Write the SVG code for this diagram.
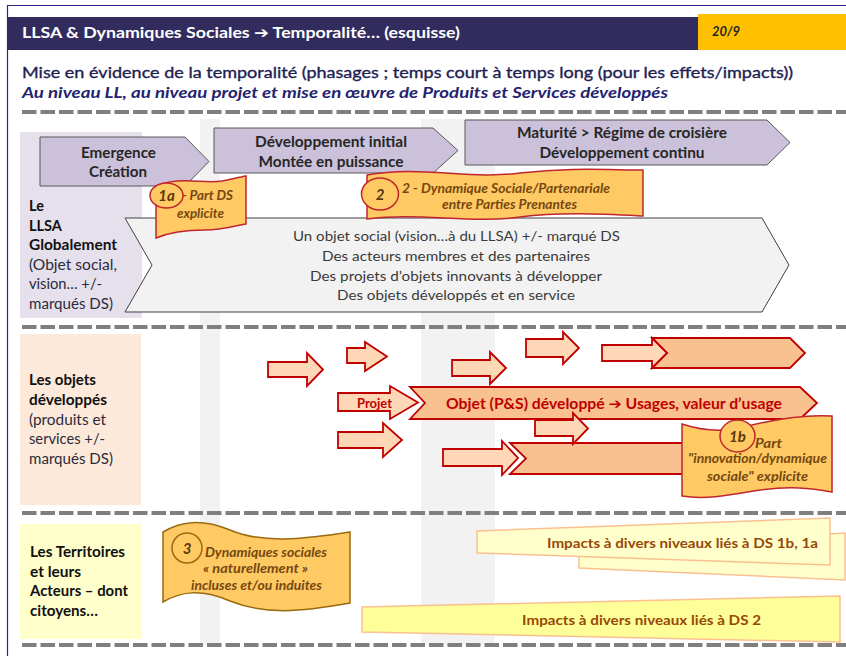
<svg xmlns="http://www.w3.org/2000/svg" width="846" height="656" viewBox="0 0 846 656">
<style>
text{font-family:Lato,"DejaVu Sans",sans-serif}
.dash{stroke:#7f7f7f;stroke-width:4;stroke-dasharray:14.5 4;fill:none}
.band{fill:#f2f2f2}
.phase{fill:#ccc1da;stroke:#595959;stroke-width:1}
.ptxt{font-size:14.5px;font-weight:bold;fill:#262626;text-anchor:middle}
.gtxt{font-size:14px;fill:#3a3a3a;text-anchor:middle}
.lbl{font-size:14.5px;fill:#2b2b3b}
.lb{font-weight:bold;fill:#111}
.sa{fill:#fdd7b6;stroke:#c00000;stroke-width:1.8;stroke-linejoin:miter}
.ch{fill:#f9c090;stroke:#c00000;stroke-width:1.8}
.ban{fill:#ffc964;stroke:#c0262d;stroke-width:1.5}
.ban3{fill:#ffc964;stroke:#9a6a10;stroke-width:1.5}
.btxt{font-size:12.5px;font-style:italic;font-weight:bold;fill:#75480f}
.num{font-size:15px;font-style:italic;font-weight:bold;fill:#5a380c;text-anchor:middle}
.imp{font-size:13.5px;font-weight:bold;fill:#984807}
</style>
<rect x="0" y="0" width="846" height="656" fill="#ffffff"/>
<g id="frame">
<path d="M7.5,656 V5.5 H846" fill="none" stroke="#2a2a86" stroke-width="1.2"/>
</g>
<g id="header">
<rect x="8" y="17" width="690" height="33" fill="#322c5e"/>
<rect x="698" y="14" width="148" height="36" fill="#ffc000"/>
<text x="22" y="38" font-size="15.5" font-weight="bold" fill="#ffffff" textLength="438" lengthAdjust="spacingAndGlyphs">LLSA &amp; Dynamiques Sociales ➔ Temporalité… (esquisse)</text>
<text x="712" y="36" font-size="14" font-weight="bold" font-style="italic" fill="#262626" textLength="28" lengthAdjust="spacingAndGlyphs">20/9</text>
<text x="22" y="78" font-size="15.5" fill="#1e1e52" stroke="#1e1e52" stroke-width="0.35" textLength="771" lengthAdjust="spacingAndGlyphs">Mise en évidence de la temporalité (phasages ; temps court à temps long (pour les effets/impacts))</text>
<text x="22" y="98" font-size="15" font-style="italic" font-weight="bold" fill="#23236e" textLength="646" lengthAdjust="spacingAndGlyphs">Au niveau LL, au niveau projet et mise en œuvre de Produits et Services développés</text>
</g>
<g id="bands">
<rect class="band" x="200" y="119" width="20" height="526"/>
<rect class="band" x="421" y="119" width="74" height="526"/>
</g>
<g id="separators">
<line class="dash" x1="22" y1="112" x2="846" y2="112"/>
<line class="dash" x1="22" y1="327" x2="846" y2="327"/>
<line class="dash" x1="22" y1="513" x2="846" y2="513"/>
<line class="dash" x1="22" y1="645" x2="846" y2="645"/>
</g>
<g id="row-llsa">
<rect x="20" y="132" width="122" height="186" fill="#e5e0ec"/>
<text class="lbl lb" x="29" y="211">Le</text>
<text class="lbl lb" x="29" y="230.5">LLSA</text>
<text class="lbl lb" x="29" y="250" textLength="88" lengthAdjust="spacingAndGlyphs">Globalement</text>
<text class="lbl" x="29" y="269.5" textLength="88" lengthAdjust="spacingAndGlyphs">(Objet social,</text>
<text class="lbl" x="29" y="289" textLength="73" lengthAdjust="spacingAndGlyphs">vision… +/-</text>
<text class="lbl" x="29" y="308.5" textLength="84" lengthAdjust="spacingAndGlyphs">marqués DS)</text>
</g>
<g id="row-objets">
<rect x="20" y="334" width="121" height="171" fill="#fde9d9"/>
<text class="lbl lb" x="29" y="385" textLength="67" lengthAdjust="spacingAndGlyphs">Les objets</text>
<text class="lbl lb" x="29" y="404.5" textLength="78" lengthAdjust="spacingAndGlyphs">développés</text>
<text class="lbl" x="29" y="424.5" textLength="77" lengthAdjust="spacingAndGlyphs">(produits et</text>
<text class="lbl" x="29" y="444" textLength="76" lengthAdjust="spacingAndGlyphs">services +/-</text>
<text class="lbl" x="29" y="463.5" textLength="84" lengthAdjust="spacingAndGlyphs">marqués DS)</text>
</g>
<g id="row-territoires">
<rect x="20" y="524" width="122" height="115" fill="#ffffcc"/>
<text class="lbl lb" x="30" y="557" textLength="95" lengthAdjust="spacingAndGlyphs">Les Territoires</text>
<text class="lbl lb" x="30" y="576.5" textLength="51" lengthAdjust="spacingAndGlyphs">et leurs</text>
<text class="lbl lb" x="30" y="596" textLength="98" lengthAdjust="spacingAndGlyphs">Acteurs – dont</text>
<text class="lbl lb" x="30" y="615.5" textLength="68" lengthAdjust="spacingAndGlyphs">citoyens…</text>
</g>
<g id="phase-emergence">
<polygon class="phase" points="40,137 185,137 209,161.5 185,186 40,186"/>
<text class="ptxt" x="118.5" y="158" textLength="75" lengthAdjust="spacingAndGlyphs">Emergence</text>
<text class="ptxt" x="118" y="177" textLength="58" lengthAdjust="spacingAndGlyphs">Création</text>
</g>
<g id="phase-developpement">
<polygon class="phase" points="214,128 433,128 458,150.5 433,173 214,173"/>
<text class="ptxt" x="331" y="147" textLength="152" lengthAdjust="spacingAndGlyphs">Développement initial</text>
<text class="ptxt" x="331" y="167" textLength="145" lengthAdjust="spacingAndGlyphs">Montée en puissance</text>
</g>
<g id="phase-maturite">
<polygon class="phase" points="465,120 767,120 790,142.5 767,165 465,165"/>
<text class="ptxt" x="622" y="138" textLength="210" lengthAdjust="spacingAndGlyphs">Maturité &gt; Régime de croisière</text>
<text class="ptxt" x="622" y="158" textLength="165" lengthAdjust="spacingAndGlyphs">Développement continu</text>
</g>
<g id="llsa-objet-social">
<polygon points="125,218 762,218 789,265 762,312 125,312 152,265" fill="#f2f2f2" stroke="#404040" stroke-width="1"/>
<text class="gtxt" x="456.5" y="241" textLength="327" lengthAdjust="spacingAndGlyphs">Un objet social (vision…à du LLSA) +/- marqué DS</text>
<text class="gtxt" x="456" y="261" textLength="268" lengthAdjust="spacingAndGlyphs">Des acteurs membres et des partenaires</text>
<text class="gtxt" x="456" y="281" textLength="292" lengthAdjust="spacingAndGlyphs">Des projets d’objets innovants à développer</text>
<text class="gtxt" x="456" y="300" textLength="238" lengthAdjust="spacingAndGlyphs">Des objets développés et en service</text>
</g>
<g id="ds-1a">
<path class="ban" d="M156,186 C178,176 204,184 222,181 C232,179 240,177 246,176 L246,224 C234,226 222,230 205,230 C186,230 170,232 156,238 Z"/>
<ellipse class="ban" cx="166.5" cy="195.5" rx="16.5" ry="12.5"/>
<text class="num" x="166.5" y="201">1a</text>
<text class="btxt" x="182" y="200" textLength="51" lengthAdjust="spacingAndGlyphs">- Part DS</text>
<text class="btxt" x="200.5" y="218" text-anchor="middle" textLength="47" lengthAdjust="spacingAndGlyphs">explicite</text>
</g>
<g id="ds-2">
<path class="ban" d="M367,175 C420,165 470,180 520,173 C570,167 610,170 643,170 L643,216 C600,214 560,212 520,217 C470,224 420,212 367,219 Z"/>
<ellipse class="ban" cx="380" cy="194" rx="18.5" ry="16"/>
<text class="num" x="380" y="200" font-size="16">2</text>
<text class="btxt" x="402" y="193" textLength="208" lengthAdjust="spacingAndGlyphs">2 - Dynamique Sociale/Partenariale</text>
<text class="btxt" x="509.5" y="209" text-anchor="middle" textLength="135" lengthAdjust="spacingAndGlyphs">entre Parties Prenantes</text>
</g>
<g id="objets-arrows">
<path class="sa" d="M268,362 H307 V353 L323,369.5 L307,386 V377 H268 Z"/>
<path class="sa" d="M347,348 H365 V342 L387,356.5 L365,371 V363 H347 Z"/>
<path class="sa" d="M338,432 H383 V423 L402,440 L383,457 V448 H338 Z"/>
<path class="sa" d="M526,339 H563 V332 L579,348 L563,364 V357 H526 Z"/>
<polygon class="ch" points="652,338 790,338 805,353 790,368 652,368 667,353"/>
<path class="sa" d="M602,345 H652 V338 L667,353 L652,368 V361 H602 Z"/>
<path class="sa" d="M452,360 H490 V352 L506,368 L490,384 V376 H452 Z"/>
<polygon class="ch" points="510,443 720,443 720,474 510,474 526,458.5"/>
<path class="sa" d="M443,449 H502 V441 L518,458 L502,475 V466 H443 Z"/>
</g>
<g id="objet-developpe">
<polygon class="ch" points="410,387 800,387 817,403 800,419 410,419 425,403"/>
<text x="614" y="409" font-size="14.5" font-weight="bold" fill="#c00000" text-anchor="middle" textLength="336" lengthAdjust="spacingAndGlyphs">Objet (P&amp;S) développé ➔ Usages, valeur d’usage</text>
</g>
<g id="projet">
<path class="sa" d="M338,393 H390 V386 L418,402.5 L390,419 V411 H338 Z"/>
<text x="374.5" y="408" font-size="12.5" font-weight="bold" fill="#c00000" text-anchor="middle" textLength="35" lengthAdjust="spacingAndGlyphs">Projet</text>
<path class="sa" d="M535,420 H573 V413 L588,428.5 L573,444 V436 H535 Z"/>
</g>
<g id="ds-1b">
<path class="ban" d="M682,424 C700,430 720,432 740,428 C770,420 800,414 832,416 L832,492 C810,488 790,486 760,490 C730,495 705,500 682,496 Z" stroke="#b8302c"/>
<ellipse class="ban" cx="737.5" cy="436" rx="17.5" ry="16"/>
<text class="num" x="737.5" y="442">1b</text>
<text class="btxt" x="755" y="448" textLength="27" lengthAdjust="spacingAndGlyphs">Part</text>
<text class="btxt" x="757.5" y="463" text-anchor="middle" textLength="139" lengthAdjust="spacingAndGlyphs">"innovation/dynamique</text>
<text class="btxt" x="757.5" y="481" text-anchor="middle" textLength="101" lengthAdjust="spacingAndGlyphs">sociale"  explicite</text>
</g>
<g id="ds-3">
<path class="ban3" d="M163,532 C180,522 200,518 230,530 C260,543 300,540 350,532 L350,603 C300,612 265,615 230,601 C200,588 180,592 163,602 Z"/>
<ellipse class="ban3" cx="187" cy="548" rx="15" ry="15"/>
<text class="num" x="187" y="554">3</text>
<text class="btxt" x="266" y="557" text-anchor="middle" textLength="122" lengthAdjust="spacingAndGlyphs">Dynamiques sociales</text>
<text class="btxt" x="255.5" y="573" text-anchor="middle" textLength="105" lengthAdjust="spacingAndGlyphs">« naturellement »</text>
<text class="btxt" x="256.5" y="590" text-anchor="middle" textLength="131" lengthAdjust="spacingAndGlyphs">incluses et/ou induites</text>
</g>
<g id="impacts-1b-1a">
<polygon points="579,550 845,533 845,580 579,568" fill="#ffffcc" stroke="#fac090" stroke-width="1.5"/>
<polygon points="477,531 830,518 830,565 477,553" fill="#ffffcc" stroke="#fac090" stroke-width="1.5"/>
<text class="imp" x="547" y="548" textLength="271" lengthAdjust="spacingAndGlyphs">Impacts à divers niveaux liés à DS 1b, 1a</text>
</g>
<g id="impacts-2">
<polygon points="362,607 840,596 840,642 362,632" fill="#ffff99" stroke="#fac090" stroke-width="1.5"/>
<text class="imp" x="522" y="625" textLength="239" lengthAdjust="spacingAndGlyphs">Impacts à divers niveaux liés à DS 2</text>
</g>
<g id="connectors"></g>
</svg>
